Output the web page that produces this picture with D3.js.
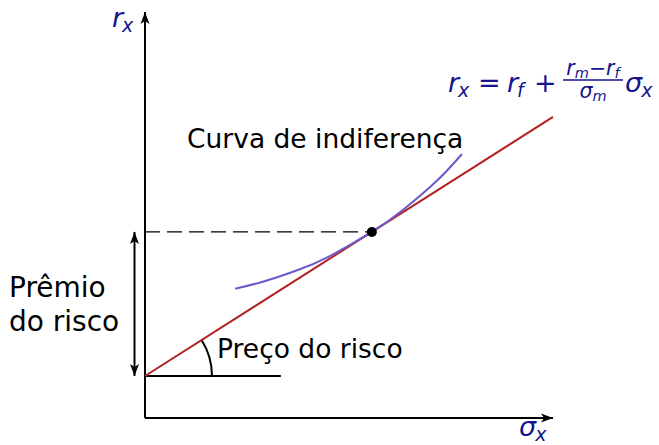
<!DOCTYPE html>
<html>
<head>
<meta charset="utf-8">
<script src="https://cdn.jsdelivr.net/npm/d3@7/dist/d3.min.js"></script>
<style>
  html, body { margin: 0; padding: 0; background: #fff; }
  svg { display: block; }
  text { font-family: "DejaVu Sans", sans-serif; }
</style>
</head>
<body>
<svg id="chart" width="659" height="445"></svg>
<script>
// Capital market line and an indifference curve in (sigma, r) space
const sigmaDomain = [0, 10];
const returnDomain = [0, 10];
const axisEnd = { sigma: 10, r: 9.95 };

const riskFree = 1.03;            // r_f
const marketSlope = 0.635;        // (r_m - r_f) / sigma_m
const cmlSigma = [0, 10];         // extent of the capital market line
const tangencySigma = 5.56;       // optimal portfolio
const baseLineSigma = 3.33;       // horizontal reference line at r_f

// indifference curve, point by point
const indiffSigma  = [2.21, 2.89, 3.73, 4.53, 5.56, 6.32, 7.16, 7.77];
const indiffReturn = [3.17, 3.34, 3.62, 3.97, 4.56, 5.10, 5.82, 6.47];

const labels = {
  curve: "Curva de indiferença",
  premium: ["Prêmio", "do risco"],
  price: "Preço do risco"
};

const mathColor = "#14148c";
const svg = d3.select("#chart");

const x = d3.scaleLinear().domain(sigmaDomain).range([145, 553]);
const y = d3.scaleLinear().domain(returnDomain).range([418, 10]);

const cml = s => riskFree + marketSlope * s;

// arrowhead marker
const defs = svg.append("defs");
defs.append("marker")
  .attr("id", "head")
  .attr("viewBox", "-13 -6 14 12")
  .attr("refX", 0).attr("refY", 0)
  .attr("markerWidth", 14).attr("markerHeight", 12)
  .attr("markerUnits", "userSpaceOnUse")
  .attr("orient", "auto-start-reverse")
  .append("path")
  .attr("d", "M0,0 L-12,-4.5 L-9,0 L-12,4.5 Z")
  .attr("fill", "#000");

// axes
svg.append("line")
  .attr("x1", x(0)).attr("y1", y(0))
  .attr("x2", x(0)).attr("y2", y(axisEnd.r))
  .attr("stroke", "#000").attr("stroke-width", 2)
  .attr("marker-end", "url(#head)");
svg.append("line")
  .attr("x1", x(0)).attr("y1", y(0))
  .attr("x2", x(axisEnd.sigma)).attr("y2", y(0))
  .attr("stroke", "#000").attr("stroke-width", 2)
  .attr("marker-end", "url(#head)");

// dashed level of the optimal portfolio
svg.append("line")
  .attr("x1", x(0)).attr("y1", y(cml(tangencySigma)))
  .attr("x2", x(tangencySigma)).attr("y2", y(cml(tangencySigma)))
  .attr("stroke", "#000").attr("stroke-width", 1.3)
  .attr("stroke-dasharray", "15,7");

// risk premium double arrow
const premiumX = x(0) - 10.5;
svg.append("line")
  .attr("x1", premiumX).attr("y1", y(riskFree))
  .attr("x2", premiumX).attr("y2", y(cml(tangencySigma)))
  .attr("stroke", "#000").attr("stroke-width", 2)
  .attr("marker-start", "url(#head)")
  .attr("marker-end", "url(#head)");

// horizontal reference at r_f
svg.append("line")
  .attr("x1", x(0)).attr("y1", y(riskFree))
  .attr("x2", x(baseLineSigma)).attr("y2", y(riskFree))
  .attr("stroke", "#000").attr("stroke-width", 2);

// angle arc for the price of risk
const theta = Math.atan2(y(riskFree) - y(cml(cmlSigma[1])), x(cmlSigma[1]) - x(0));
const arcPath = d3.path();
arcPath.arc(x(0), y(riskFree), 67, -theta, 0);
svg.append("path")
  .attr("d", arcPath.toString())
  .attr("fill", "none").attr("stroke", "#000").attr("stroke-width", 2);

// capital market line
svg.append("line")
  .attr("x1", x(cmlSigma[0])).attr("y1", y(cml(cmlSigma[0])))
  .attr("x2", x(cmlSigma[1])).attr("y2", y(cml(cmlSigma[1])))
  .attr("stroke", "#b22222").attr("stroke-width", 2);

// indifference curve
const curvePts = indiffSigma.map((s, i) => [s, indiffReturn[i]]);
svg.append("path")
  .datum(curvePts)
  .attr("d", d3.line().x(d => x(d[0])).y(d => y(d[1])).curve(d3.curveNatural))
  .attr("fill", "none").attr("stroke", "#6a5acd").attr("stroke-width", 2);

// tangency point
svg.append("circle")
  .attr("cx", x(tangencySigma)).attr("cy", y(cml(tangencySigma)))
  .attr("r", 5).attr("fill", "#000");

// plain labels
svg.append("text").attr("x", 187).attr("y", 148)
  .attr("font-size", 26.5).text(labels.curve);
svg.append("text").attr("x", 217).attr("y", 358)
  .attr("font-size", 26.5).text(labels.price);
svg.append("text").attr("x", 9).attr("y", 297)
  .attr("font-size", 28).text(labels.premium[0]);
svg.append("text").attr("x", 9).attr("y", 331)
  .attr("font-size", 28).text(labels.premium[1]);

// math labels
const big = 27, small = 19;
function sym(xp, yp, main, sub, size, subSize, drop) {
  const t = svg.append("text").attr("x", xp).attr("y", yp)
    .attr("fill", mathColor).attr("font-size", size).attr("font-style", "italic");
  t.append("tspan").text(main);
  if (sub) t.append("tspan").attr("dx", -1).attr("dy", drop)
    .attr("font-size", subSize).text(sub);
  return t;
}

// axis labels
sym(112, 27, "r", "x", big, small, 5);
sym(519, 436, "σ", "x", big, small, 4.5);

// r_x = r_f + (r_m - r_f)/sigma_m * sigma_x
sym(448, 92, "r", "x", big, small, 5);
svg.append("text").attr("x", 478).attr("y", 92).attr("fill", mathColor)
  .attr("font-size", big).text("=");
sym(507, 92, "r", "f", big, small, 5);
svg.append("text").attr("x", 534).attr("y", 92).attr("fill", mathColor)
  .attr("font-size", big).text("+");

const num = svg.append("text").attr("x", 593).attr("y", 75)
  .attr("text-anchor", "middle").attr("fill", mathColor).attr("font-size", 20.5);
num.append("tspan").attr("font-style", "italic").text("r");
num.append("tspan").attr("font-style", "italic").attr("dy", 3).attr("font-size", 14.5).text("m");
num.append("tspan").attr("dy", -3).text("−");
num.append("tspan").attr("font-style", "italic").text("r");
num.append("tspan").attr("font-style", "italic").attr("dy", 3).attr("font-size", 14.5).text("f");

svg.append("line").attr("x1", 563).attr("x2", 623).attr("y1", 80).attr("y2", 80)
  .attr("stroke", mathColor).attr("stroke-width", 1.3);

const den = svg.append("text").attr("x", 593).attr("y", 98)
  .attr("text-anchor", "middle").attr("fill", mathColor).attr("font-size", 20.5);
den.append("tspan").attr("font-style", "italic").text("σ");
den.append("tspan").attr("font-style", "italic").attr("dy", 3).attr("font-size", 14.5).text("m");

sym(625, 92, "σ", "x", big, small, 5);
</script>
</body>
</html>
